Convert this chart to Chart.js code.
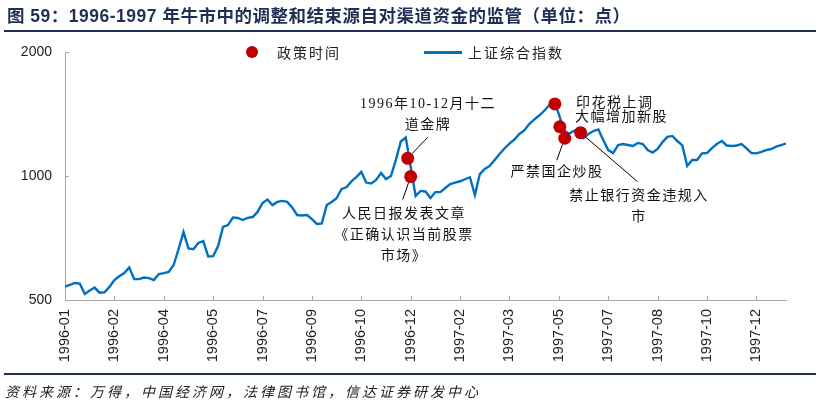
<!DOCTYPE html>
<html>
<head>
<meta charset="utf-8">
<script src="https://cdn.jsdelivr.net/npm/chart.js@4.4.1/dist/chart.umd.min.js"></script>
<style>
    body { margin: 0; background: #fff; }
    #wrap { position: relative; width: 820px; height: 406px; overflow: hidden; font-family: "Noto Sans CJK SC", sans-serif; }
    #title { position: absolute; left: 7px; top: 2px; font: bold 17.5px "Liberation Sans", "Noto Sans CJK SC"; letter-spacing: 0.5px; color: #1f2f55; white-space: nowrap; }
    .rule { position: absolute; left: 4px; width: 812px; height: 2px; background: #1f2f55; }
    #source { position: absolute; left: 5px; top: 381px; font-size: 14px; font-style: italic; letter-spacing: 3px; color: #222; white-space: nowrap; }
    .lg-text { position: absolute; top: 42px; font-size: 14px; letter-spacing: 2px; color: #222; white-space: nowrap; }
    #lg-dot { position: absolute; left: 246px; top: 46px; width: 12px; height: 12px; border-radius: 50%; background: #c00000; }
    #lg-line { position: absolute; left: 424px; top: 51px; width: 38px; height: 2.5px; background: #0070c0; }
    canvas { position: absolute; left: 0; top: 0; }
</style>
</head>
<body>
<div id="wrap">
    <canvas id="sz-chart" width="820" height="406"></canvas>
    <div id="title">图 59：1996-1997 年牛市中的调整和结束源自对渠道资金的监管（单位：点）</div>
    <div class="rule" style="top:30px"></div>
    <div id="lg-dot"></div>
    <div class="lg-text" style="left:277px">政策时间</div>
    <div id="lg-line"></div>
    <div class="lg-text" style="left:468px">上证综合指数</div>
    <div class="rule" style="top:373px"></div>
    <div id="source">资料来源：万得，中国经济网，法律图书馆，信达证券研发中心</div>
</div>
<script>
// x axis tick labels, one every 10 points of the series
const tickLabels = ['1996-01', '1996-02', '1996-04', '1996-05', '1996-07', '1996-09', '1996-10', '1996-12',
    '1997-02', '1997-03', '1997-05', '1997-07', '1997-08', '1997-10', '1997-12'];
const yTicks = [500, 1000, 2000];

const szIndex = [
    539, 544, 550, 548, 517, 527, 536, 521, 522, 538,
    559, 571, 581, 600, 562, 562, 567, 565, 559, 578,
    581, 585, 608, 665, 731, 667, 664, 688, 695, 638,
    639, 676, 752, 760, 793, 791, 782, 791, 795, 818,
    860, 877, 850, 865, 870, 865, 839, 804, 802, 804,
    786, 765, 767, 850, 865, 883, 930, 939, 970, 994,
    1023, 964, 959, 978, 1017, 983, 1000, 1094, 1213, 1240,
    1052, 894, 920, 917, 884, 914, 914, 935, 956, 964,
    971, 982, 993, 899, 1011, 1040, 1058, 1094, 1131, 1166,
    1199, 1226, 1265, 1290, 1337, 1371, 1402, 1438, 1483, 1521,
    1414, 1293, 1265, 1286, 1293, 1237, 1265, 1286, 1297, 1223,
    1156, 1137, 1189, 1196, 1189, 1183, 1203, 1196, 1156, 1140,
    1163, 1209, 1244, 1251, 1216, 1186, 1058, 1094, 1094, 1135,
    1137, 1169, 1196, 1216, 1186, 1183, 1186, 1196, 1167, 1137,
    1135, 1144, 1156, 1163, 1178, 1189, 1199
];

// 政策时间 points
const policyPos = [69.4, 70.0, 99.2, 100.2, 101.2, 104.4];
const policyVal = [1104, 997, 1496, 1317, 1235, 1274];

const axisColor = '#a6a6a6';
const dotRadius = 6.5;

// annotation labels; lead = offset of the leader end from its dot
const notes = [
    { lines: ['1996年10-12月十二', '道金牌'], x: 428, y: 104, align: 'center', dot: 0, lead: [20, -21] },
    { lines: ['人民日报发表文章', '《正确认识当前股票', '市场》'], x: 404, y: 214, align: 'center', dot: 1, lead: [-8, 23] },
    { lines: ['印花税上调'], x: 576, y: 103, align: 'left' },
    { lines: ['大幅增加新股'], x: 575, y: 117, align: 'left' },
    { lines: ['严禁国企炒股'], x: 557, y: 172, align: 'center', dot: 4, lead: [-8, 22] },
    { lines: ['禁止银行资金违规入', '市'], x: 639, y: 196, align: 'center', dot: 5, lead: [57, 49] }
];

const extras = {
    id: 'extras',
    afterDraw(chart) {
        const { ctx, chartArea } = chart;
        const xs = chart.scales.x;
        const ys = chart.scales.y;
        ctx.save();
        // inward tick marks
        ctx.strokeStyle = axisColor;
        ctx.lineWidth = 1;
        ctx.beginPath();
        xs.ticks.forEach(t => {
            const px = Math.round(xs.getPixelForValue(t.value)) + 0.5;
            ctx.moveTo(px, chartArea.bottom);
            ctx.lineTo(px, chartArea.bottom - 4);
        });
        ys.ticks.forEach(t => {
            const py = Math.round(ys.getPixelForValue(t.value)) + 0.5;
            ctx.moveTo(chartArea.left, py);
            ctx.lineTo(chartArea.left + 4, py);
        });
        ctx.stroke();

        // leader lines
        ctx.strokeStyle = '#000';
        ctx.lineWidth = 1;
        notes.forEach(n => {
            if (n.dot === undefined) return;
            const cx = xs.getPixelForValue(policyPos[n.dot]);
            const cy = ys.getPixelForValue(policyVal[n.dot]);
            const len = Math.hypot(n.lead[0], n.lead[1]);
            ctx.beginPath();
            ctx.moveTo(cx + n.lead[0] / len * dotRadius, cy + n.lead[1] / len * dotRadius);
            ctx.lineTo(cx + n.lead[0], cy + n.lead[1]);
            ctx.stroke();
        });

        // annotation text
        ctx.fillStyle = '#111';
        ctx.font = '14px "Liberation Serif", "Noto Sans CJK SC"';
        ctx.letterSpacing = '1.5px';
        ctx.textBaseline = 'middle';
        notes.forEach(n => {
            ctx.textAlign = n.align;
            n.lines.forEach((s, k) => ctx.fillText(s, n.x, n.y + k * 21));
        });
        ctx.restore();
    }
};

new Chart(document.getElementById('sz-chart'), {
    type: 'line',
    data: {
        datasets: [
            {
                type: 'scatter',
                label: '政策时间',
                data: policyPos.map((p, i) => ({ x: p, y: policyVal[i] })),
                backgroundColor: '#c00000',
                borderWidth: 0,
                pointRadius: dotRadius,
                order: 0
            },
            {
                label: '上证综合指数',
                data: szIndex.map((v, i) => ({ x: i, y: v })),
                borderColor: '#0070c0',
                borderWidth: 2.4,
                pointRadius: 0,
                tension: 0,
                fill: false,
                order: 1
            }
        ]
    },
    options: {
        responsive: false,
        animation: false,
        layout: { padding: { top: 52, right: 34, left: 0, bottom: 0 } },
        plugins: {
            legend: { display: false },
            tooltip: { enabled: false }
        },
        scales: {
            x: {
                type: 'linear',
                min: 0,
                max: szIndex.length - 1,
                afterBuildTicks: scale => { scale.ticks = tickLabels.map((l, k) => ({ value: k * 10 })); },
                afterFit: scale => { scale.height = 106; },
                grid: { drawOnChartArea: false, drawTicks: false },
                border: { color: axisColor },
                ticks: {
                    autoSkip: false,
                    minRotation: 90,
                    maxRotation: 90,
                    padding: 9,
                    color: '#222',
                    font: { family: 'Liberation Sans', size: 14.5 },
                    callback: (v, i) => tickLabels[i]
                }
            },
            y: {
                type: 'logarithmic',
                min: 500,
                max: 2000,
                afterBuildTicks: scale => { scale.ticks = yTicks.map(v => ({ value: v })); },
                afterFit: scale => { scale.width = 65; },
                grid: { drawOnChartArea: false, drawTicks: false },
                border: { color: axisColor },
                ticks: {
                    padding: 13,
                    color: '#222',
                    font: { family: 'Liberation Sans', size: 14 },
                    callback: v => String(v)
                }
            }
        }
    },
    plugins: [extras]
});
</script>
</body>
</html>
